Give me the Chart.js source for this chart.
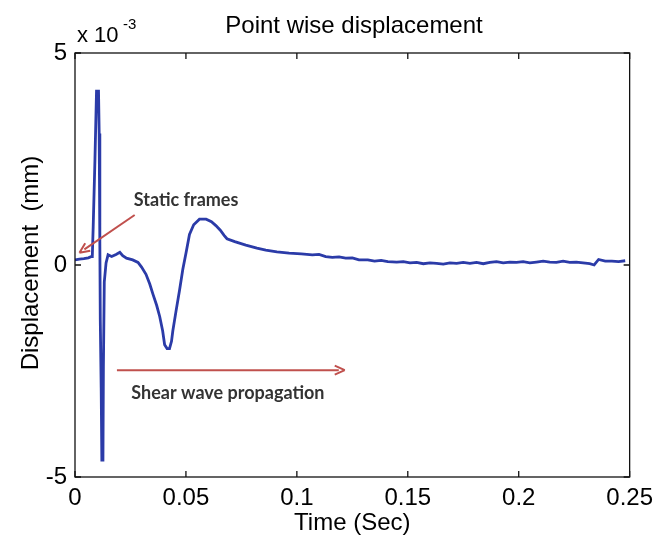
<!DOCTYPE html>
<html>
<head>
<meta charset="utf-8">
<script src="https://cdn.jsdelivr.net/npm/chart.js@4/dist/chart.umd.min.js"></script>
<style>
  html, body { margin: 0; padding: 0; background: #fff; }
  canvas { display: block; }
</style>
</head>
<body>
<canvas id="grafico" width="660" height="539"></canvas>
<script>
// tiempo en segundos
var timeSec = [0, 0.002, 0.004, 0.006, 0.0075, 0.0078, 0.0082, 0.0090, 0.0097, 0.0106,
  0.0109, 0.0112, 0.0114, 0.0118, 0.0121, 0.0126, 0.0128, 0.0132, 0.0140, 0.0149,
  0.0165, 0.0185, 0.0202, 0.0215, 0.0232, 0.0260, 0.0284, 0.0300, 0.0320, 0.0337,
  0.0352, 0.0368, 0.0382, 0.0395, 0.0404, 0.0415, 0.0426, 0.0435, 0.0441, 0.0455,
  0.0471, 0.0486, 0.0501, 0.0516, 0.0535, 0.0561, 0.0591, 0.0615, 0.0635, 0.0655,
  0.0672, 0.0685, 0.0720, 0.077, 0.082, 0.086, 0.091, 0.0965, 0.102, 0.107,
  0.110, 0.113, 0.116, 0.119, 0.122, 0.125, 0.128, 0.132, 0.135, 0.138,
  0.141, 0.145, 0.148, 0.151, 0.154, 0.157, 0.160, 0.163, 0.166, 0.169,
  0.172, 0.175, 0.178, 0.181, 0.184, 0.187, 0.190, 0.193, 0.196, 0.199,
  0.202, 0.205, 0.208, 0.211, 0.214, 0.217, 0.220, 0.223, 0.226, 0.229,
  0.232, 0.234, 0.236, 0.239, 0.242, 0.245, 0.248];

// desplazamiento en unidades de 1e-3 mm
var dispE3 = [0.12, 0.14, 0.15, 0.17, 0.2, 0.2, 0.9, 2.5, 4.1, 4.1,
  3.1, 0.5, -1.3, -2.9, -4.6, -4.6, -2.4, -0.4, 0.05, 0.24,
  0.2, 0.25, 0.3, 0.22, 0.16, 0.12, 0.06, -0.05, -0.22, -0.45,
  -0.7, -0.95, -1.22, -1.55, -1.88, -1.97, -1.97, -1.8, -1.55, -1.1,
  -0.6, -0.1, 0.3, 0.72, 0.95, 1.08, 1.08, 1.02, 0.93, 0.82,
  0.7, 0.62, 0.55, 0.47, 0.4, 0.35, 0.31, 0.28, 0.26, 0.24,
  0.25, 0.2, 0.18, 0.19, 0.16, 0.17, 0.12, 0.12, 0.09, 0.11,
  0.08, 0.07, 0.08, 0.05, 0.06, 0.03, 0.05, 0.04, 0.02, 0.05,
  0.04, 0.06, 0.04, 0.06, 0.03, 0.06, 0.08, 0.05, 0.07, 0.06,
  0.08, 0.05, 0.07, 0.09, 0.07, 0.06, 0.09, 0.06, 0.07, 0.05,
  0.03, 0.0, 0.13, 0.09, 0.09, 0.08, 0.1];

var xTicks = [0, 0.05, 0.1, 0.15, 0.2, 0.25];
var yTicks = [-5, 0, 5];

// anotaciones (coordenadas de datos)
var staticArrow = [[0.0269, 1.18], [0.0020, 0.29]];
var shearArrow = [[0.0189, -2.48], [0.1216, -2.48]];
var staticText = ["Static frames", 0.0265, 1.53];
var shearText = ["Shear wave propagation", 0.0254, -3.02];

var puntos = timeSec.map(function(t, i) { return { x: t, y: dispE3[i] }; });

function flecha(ctx, x1, y1, x2, y2) {
	var ang = Math.atan2(y2 - y1, x2 - x1);
	ctx.beginPath();
	ctx.moveTo(x1, y1);
	ctx.lineTo(x2 - 6 * Math.cos(ang), y2 - 6 * Math.sin(ang));
	ctx.stroke();
	ctx.beginPath();
	ctx.moveTo(x2, y2);
	ctx.lineTo(x2 - 11 * Math.cos(ang - 0.42), y2 - 11 * Math.sin(ang - 0.42));
	ctx.moveTo(x2, y2);
	ctx.lineTo(x2 - 11 * Math.cos(ang + 0.42), y2 - 11 * Math.sin(ang + 0.42));
	ctx.stroke();
}

var marcoPlugin = {
	id: "marco",
	afterDatasetsDraw: function(chart) {
		var ctx = chart.ctx, a = chart.chartArea;
		var sx = chart.scales.x, sy = chart.scales.y;
		ctx.save();
		// caja
		ctx.strokeStyle = "#111";
		ctx.lineWidth = 1.3;
		ctx.strokeRect(a.left, a.top, a.right - a.left, a.bottom - a.top);
		// ticks hacia dentro
		ctx.beginPath();
		xTicks.forEach(function(v) {
			var px = sx.getPixelForValue(v);
			ctx.moveTo(px, a.bottom); ctx.lineTo(px, a.bottom - 6);
			ctx.moveTo(px, a.top); ctx.lineTo(px, a.top + 6);
		});
		yTicks.forEach(function(v) {
			var py = sy.getPixelForValue(v);
			ctx.moveTo(a.left, py); ctx.lineTo(a.left + 6, py);
			ctx.moveTo(a.right, py); ctx.lineTo(a.right - 6, py);
		});
		ctx.stroke();

		// flechas
		ctx.strokeStyle = "#c0504d";
		ctx.lineWidth = 2;
		flecha(ctx, sx.getPixelForValue(staticArrow[0][0]), sy.getPixelForValue(staticArrow[0][1]),
			sx.getPixelForValue(staticArrow[1][0]), sy.getPixelForValue(staticArrow[1][1]));
		flecha(ctx, sx.getPixelForValue(shearArrow[0][0]), sy.getPixelForValue(shearArrow[0][1]),
			sx.getPixelForValue(shearArrow[1][0]), sy.getPixelForValue(shearArrow[1][1]));

		ctx.fillStyle = "#333";
		ctx.font = "bold 18px Lato";
		ctx.textAlign = "left";
		ctx.textBaseline = "middle";
		ctx.fillText(staticText[0], sx.getPixelForValue(staticText[1]), sy.getPixelForValue(staticText[2]));
		ctx.fillText(shearText[0], sx.getPixelForValue(shearText[1]), sy.getPixelForValue(shearText[2]));

		// titulo y etiquetas
		ctx.fillStyle = "#000";
		ctx.font = "24px 'Liberation Sans'";
		ctx.textAlign = "center";
		ctx.textBaseline = "alphabetic";
		ctx.fillText("Point wise displacement", 354, 33);
		ctx.textBaseline = "middle";
		ctx.fillText("Time (Sec)", (a.left + a.right) / 2, 523);
		ctx.textAlign = "left";
		ctx.font = "22px 'Liberation Sans'";
		ctx.fillText("x 10", 77, 36);
		ctx.font = "15px 'Liberation Sans'";
		ctx.fillText("-3", 123, 25);
		ctx.save();
		ctx.translate(31, 263);
		ctx.rotate(-Math.PI / 2);
		ctx.textAlign = "center";
		ctx.font = "24px 'Liberation Sans'";
		ctx.fillText("Displacement  (mm)", 0, 0);
		ctx.restore();
		ctx.restore();
	}
};

var ctx = document.getElementById("grafico").getContext("2d");
new Chart(ctx, {
	type: "line",
	data: {
		datasets: [{
			label: "Displacement",
			data: puntos,
			borderColor: "#2b3ba8",
			borderWidth: 2.8,
			pointRadius: 0,
			tension: 0,
			fill: false
		}]
	},
	options: {
		responsive: false,
		animation: false,
		layout: { padding: { left: 0, right: 28, top: 53, bottom: 0 } },
		plugins: { legend: { display: false }, tooltip: { enabled: false } },
		scales: {
			x: {
				type: "linear",
				min: 0, max: 0.25,
				afterBuildTicks: function(s) { s.ticks = xTicks.map(function(v) { return { value: v }; }); },
				afterFit: function(s) { s.height = 62; },
				grid: { display: false, drawTicks: false },
				border: { display: false },
				ticks: { color: "#000", padding: 7, font: { family: "'Liberation Sans'", size: 24 }, maxRotation: 0,
					callback: function(v) { return String(v); } }
			},
			y: {
				type: "linear",
				min: -5, max: 5,
				afterBuildTicks: function(s) { s.ticks = yTicks.map(function(v) { return { value: v }; }); },
				afterFit: function(s) { s.width = 75; },
				grid: { display: false, drawTicks: false },
				border: { display: false },
				ticks: { color: "#000", padding: 8, font: { family: "'Liberation Sans'", size: 24 },
					callback: function(v) { return String(v); } }
			}
		}
	},
	plugins: [marcoPlugin]
});
</script>
</body>
</html>
